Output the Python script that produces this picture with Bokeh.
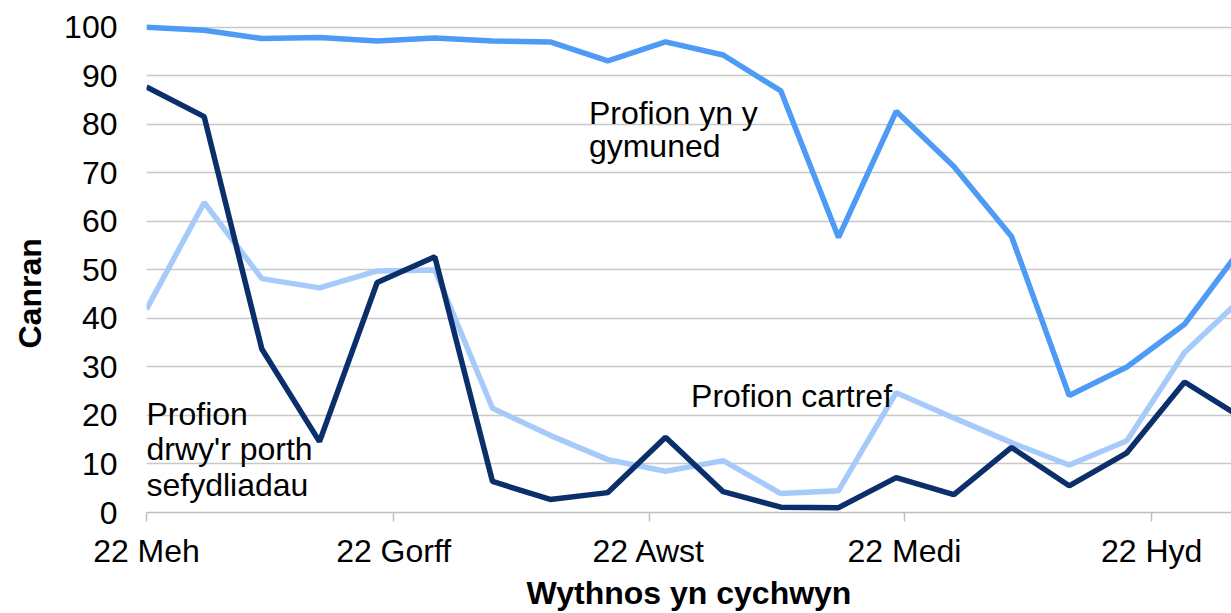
import pandas as pd
from bokeh.plotting import figure
from bokeh.models import Range1d, FixedTicker, Label, ColumnDataSource, Title
from bokeh.embed import file_html
from bokeh.resources import INLINE

# ---- data ----
weeks = ["2020-06-22", "2020-06-29", "2020-07-06", "2020-07-13", "2020-07-20",
         "2020-07-27", "2020-08-03", "2020-08-10", "2020-08-17", "2020-08-24",
         "2020-08-31", "2020-09-07", "2020-09-14", "2020-09-21", "2020-09-28",
         "2020-10-05", "2020-10-12", "2020-10-19", "2020-10-26", "2020-11-02"]
community = [100.0, 99.4, 97.7, 97.9, 97.2, 97.8, 97.2, 97.0, 93.1, 97.0,
             94.3, 86.9, 56.7, 82.7, 71.3, 56.9, 24.1, 30.0, 38.8, 54.7]
institutional = [87.7, 81.6, 33.7, 14.6, 47.4, 52.7, 6.4, 2.7, 4.1, 15.5,
                 4.3, 1.1, 1.0, 7.2, 3.7, 13.4, 5.5, 12.3, 26.9, 19.5]
home = [41.9, 63.9, 48.2, 46.3, 49.8, 50.0, 21.5, 15.9, 10.9, 8.5,
        10.7, 3.9, 4.5, 24.7, 19.5, 14.4, 9.8, 14.8, 33.0, 44.2]

tick_dates = ["2020-06-22", "2020-07-22", "2020-08-22", "2020-09-22", "2020-10-22"]
tick_labels = ["22 Meh", "22 Gorff", "22 Awst", "22 Medi", "22 Hyd"]
y_ticks = [0, 10, 20, 30, 40, 50, 60, 70, 80, 90, 100]

x_title = "Wythnos yn cychwyn"
y_title = "Canran"

FONT = "Liberation Sans"
FS = "32px"

def ms(d):
    return pd.Timestamp(d).value / 1e6

DAY = 86400000.0
x_start = ms(weeks[0])
x_end = x_start + 131.7 * DAY

src = ColumnDataSource(dict(
    x=pd.to_datetime(weeks),
    community=community,
    institutional=institutional,
    home=home,
))

p = figure(width=1231, height=613, output_backend="svg", toolbar_location=None,
           x_axis_type="datetime",
           x_range=Range1d(x_start, x_end), y_range=Range1d(0, 101),
           min_border_left=146, min_border_right=0, min_border_top=22,
           min_border_bottom=99)
p.outline_line_color = None
p.background_fill_color = "white"
p.border_fill_color = "white"

p.line("x", "home", source=src, line_color="#A6CBFA", line_width=5.5)
p.line("x", "community", source=src, line_color="#4D9BF5", line_width=5.5)
p.line("x", "institutional", source=src, line_color="#0B2F6B", line_width=5.5)

# axes
xa = p.xaxis[0]
xa.ticker = FixedTicker(ticks=[ms(d) for d in tick_dates])
xa.major_label_overrides = {ms(d): lab for d, lab in zip(tick_dates, tick_labels)}
xa.axis_line_color = "#BFBFBF"
xa.axis_line_width = 1.5
xa.major_tick_line_color = "#BFBFBF"
xa.major_tick_line_width = 1.5
xa.major_tick_out = 9
xa.major_tick_in = 0
xa.minor_tick_line_color = None
xa.major_label_text_font = FONT
xa.major_label_text_font_size = FS
xa.major_label_text_color = "#000000"
xa.major_label_standoff = 11
xa.axis_label = x_title
xa.axis_label_text_font = FONT
xa.axis_label_text_font_size = FS
xa.axis_label_text_font_style = "bold"
xa.axis_label_text_color = "#000000"
xa.axis_label_standoff = 3

ya = p.yaxis[0]
ya.ticker = FixedTicker(ticks=y_ticks)
ya.axis_line_color = None
ya.major_tick_line_color = None
ya.minor_tick_line_color = None
ya.major_tick_out = 0
ya.major_tick_in = 0
ya.major_label_text_font = FONT
ya.major_label_text_font_size = FS
ya.major_label_text_color = "#000000"
ya.major_label_standoff = 29

p.xgrid.grid_line_color = None
p.ygrid.grid_line_color = "#C8C8C8"
p.ygrid.grid_line_width = 1.5
p.ygrid.ticker = FixedTicker(ticks=y_ticks)

# y-axis title as a side title so it can sit below the frame centre
p.add_layout(Title(text=y_title, align="left", offset=164, standoff=23,
                   vertical_align="top",
                   text_font=FONT, text_font_size=FS, text_font_style="bold",
                   text_color="#000000"), "left")

# series labels
labels = [
    ("Profion yn y", 53.7, 82.4),
    ("gymuned", 53.7, 75.5),
    ("Profion cartref", 66.1, 24.0),
    ("Profion", 0.0, 20.3),
    ("drwy'r porth", 0.0, 13.1),
    ("sefydliadau", 0.0, 5.75),
]
for t, dx, yy in labels:
    p.add_layout(Label(x=x_start + dx * DAY, y=yy, text=t,
                       text_align="left", text_baseline="alphabetic",
                       text_font=FONT, text_font_size=FS, text_color="#000000"))

open("out.html", "w").write(file_html(p, INLINE))
